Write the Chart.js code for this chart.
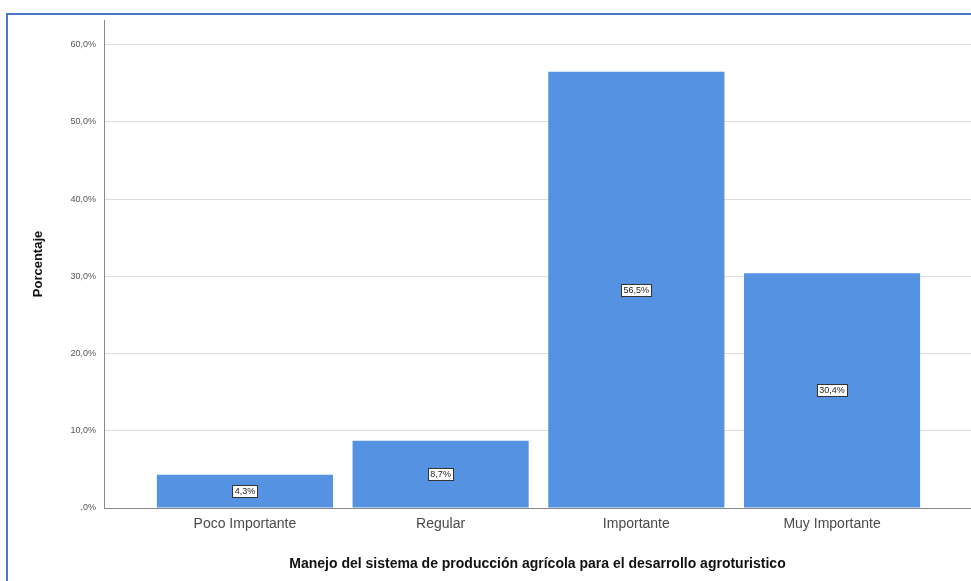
<!DOCTYPE html>
<html>
<head>
<meta charset="utf-8">
<script src="https://cdn.jsdelivr.net/npm/chart.js@4/dist/chart.umd.min.js"></script>
<style>
  html, body { margin: 0; padding: 0; background: #fff; }
  #marco { position: absolute; left: 6px; top: 13px; width: 980px; height: 600px;
           border-left: 2px solid #4a78c8; border-top: 2px solid #4a78c8; }
  #wrap { position: absolute; left: 0; top: 0; width: 971px; height: 581px; }
</style>
</head>
<body>
<div id="marco"></div>
<div id="wrap"><canvas id="grafico" width="971" height="581"></canvas></div>
<script>
// Datos del gráfico
const categorias = ['Poco Importante', 'Regular', 'Importante', 'Muy Importante'];
const posiciones = [1, 2, 3, 4];
const porcentajes = [4.3, 8.7, 56.5, 30.4];
const ticksY = [0, 10, 20, 30, 40, 50, 60];

const fmt = v => (v === 0 ? ',0%' : v.toFixed(1).replace('.', ',') + '%');

// Etiquetas dentro de las barras (caja blanca con borde)
const etiquetas = {
  id: 'etiquetas',
  afterDatasetsDraw(chart) {
    const c = chart.ctx;
    chart.getDatasetMeta(0).data.forEach((bar, i) => {
      const txt = fmt(porcentajes[i]);
      const y = (bar.y + bar.base) / 2;
      c.save();
      c.font = '9px "Liberation Sans", Arial, sans-serif';
      const w = Math.round(c.measureText(txt).width + 4);
      const h = 12;
      const x0 = Math.round(bar.x - w / 2) + 0.5;
      const y0 = Math.round(y - h / 2) + 0.5;
      c.fillStyle = '#fff';
      c.fillRect(x0, y0, w, h);
      c.strokeStyle = '#333';
      c.lineWidth = 1;
      c.strokeRect(x0, y0, w, h);
      c.fillStyle = '#222';
      c.textAlign = 'center';
      c.textBaseline = 'middle';
      c.fillText(txt, bar.x, y + 0.5);
      c.restore();
    });
  }
};

new Chart(document.getElementById('grafico').getContext('2d'), {
  type: 'bar',
  data: {
    datasets: [{
      data: posiciones.map((x, i) => ({ x: x, y: porcentajes[i] })),
      backgroundColor: 'rgb(85, 146, 226)',
      borderWidth: 0,
      barPercentage: 0.9,
      categoryPercentage: 1.0,
    }],
  },
  options: {
    responsive: false,
    animation: false,
    layout: { padding: { left: 31, right: 0, top: 20, bottom: 8 } },
    plugins: { legend: { display: false }, tooltip: { enabled: false } },
    scales: {
      x: {
        type: 'linear',
        offset: false,
        min: 0.28,
        max: 4.71,
        afterBuildTicks: s => { s.ticks = posiciones.map(v => ({ value: v })); },
        afterFit: s => { s.height = 65; },
        grid: { display: false, drawTicks: false },
        border: { display: true, color: '#8a8a8a', width: 1 },
        ticks: {
          autoSkip: false,
          maxRotation: 0,
          padding: 8,
          color: '#4a4a4a',
          font: { family: '"Liberation Sans", Arial, sans-serif', size: 14 },
          callback: v => categorias[posiciones.indexOf(v)] || '',
        },
        title: {
          display: true,
          text: 'Manejo del sistema de producción agrícola para el desarrollo agroturistico',
          color: '#111',
          font: { family: '"Liberation Sans", Arial, sans-serif', size: 14, weight: 'bold' },
          padding: { top: 6, bottom: 0 },
        },
      },
      y: {
        min: 0,
        max: 63.2,
        afterBuildTicks: s => { s.ticks = ticksY.map(v => ({ value: v })); },
        afterFit: s => { s.width = 73; },
        grid: { color: '#dcdcdc', drawTicks: false },
        border: { display: true, color: '#8a8a8a', width: 1 },
        ticks: {
          padding: 8,
          color: '#555',
          font: { family: '"Liberation Sans", Arial, sans-serif', size: 9 },
          callback: v => fmt(v),
        },
        title: {
          display: true,
          text: 'Porcentaje',
          color: '#111',
          font: { family: '"Liberation Sans", Arial, sans-serif', size: 13, weight: 'bold' },
          padding: { top: 0, bottom: 10 },
        },
      },
    },
  },
  plugins: [etiquetas],
});
</script>
</body>
</html>
